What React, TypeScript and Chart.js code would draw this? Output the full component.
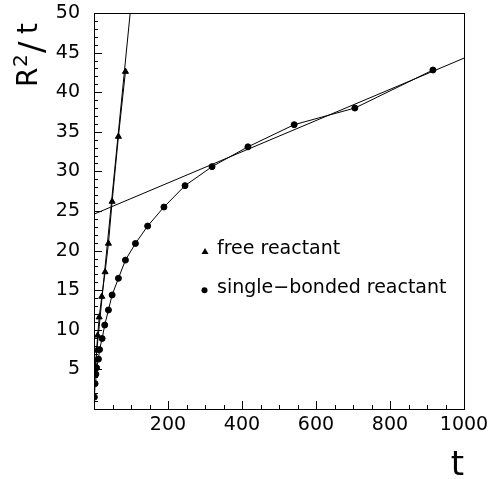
import React, { useEffect, useRef } from "react";
import { Chart, registerables } from "chart.js";

Chart.register(...registerables);

// ---- data ----
const SINGLE_T = [1, 3, 5, 7, 12, 15, 22, 29, 39, 49, 66, 85, 112, 145, 189, 246, 319, 416, 541, 705, 916];
const SINGLE_Y = [1.5, 3.2, 4.4, 5.2, 6.3, 7.5, 8.9, 10.6, 12.5, 14.4, 16.5, 18.8, 20.9, 23.1, 25.5, 28.2, 30.6, 33.1, 35.9, 38.0, 42.8];

const FREE_T = [3, 5, 7, 10, 14, 21, 30, 39, 49, 66, 85];
const FREE_Y = [4.5, 5.3, 7.4, 9.3, 11.6, 14.2, 17.3, 20.9, 26.2, 34.4, 42.6];

// straight-line fits (end points)
const SINGLE_FIT_T = [0, 1000];
const SINGLE_FIT_Y = [24.6, 44.3];
const FREE_FIT_T = [0, 97.8];
const FREE_FIT_Y = [3.8, 50];

const X_TICKS = [200, 400, 600, 800, 1000];
const Y_TICKS = [5, 10, 15, 20, 25, 30, 35, 40, 45, 50];

const LEGEND_LABELS = ["free reactant", "single\u2212bonded reactant"];

const FONT = "'DejaVu Sans', 'Liberation Sans', sans-serif";

const zip = (xs: number[], ys: number[]) => xs.map((x, i) => ({ x, y: ys[i] }));

const zeroPad = (s: any) => {
  s.paddingTop = 0;
  s.paddingBottom = 0;
  s.paddingLeft = 0;
  s.paddingRight = 0;
};

const decorPlugin = {
  id: "decor",
  afterDraw(chart: any) {
    const { ctx, chartArea } = chart;
    const xs = chart.scales.x;
    const ys = chart.scales.y;
    const { left, right, top, bottom } = chartArea;
    ctx.save();
    ctx.strokeStyle = "#000";
    ctx.lineWidth = 1;
    // frame
    ctx.strokeRect(Math.round(left) + 0.5, Math.round(top) + 0.5, Math.round(right - left), Math.round(bottom - top));
    // y ticks (inside)
    ctx.beginPath();
    for (let v = 1; v < 50; v++) {
      const py = Math.round(ys.getPixelForValue(v)) + 0.5;
      const len = v % 5 === 0 ? 8 : 4;
      ctx.moveTo(left, py);
      ctx.lineTo(left + len, py);
    }
    // x ticks (inside)
    for (let v = 50; v < 1000; v += 50) {
      const px = Math.round(xs.getPixelForValue(v)) + 0.5;
      const len = v % 200 === 0 ? 8 : 4;
      ctx.moveTo(px, bottom);
      ctx.lineTo(px, bottom - len);
    }
    ctx.stroke();

    // legend
    const w = right - left;
    const h = bottom - top;
    const lx = left + w * 0.30;
    const ly1 = top + h * 0.602;
    const ly2 = top + h * 0.70;
    ctx.fillStyle = "#000";
    // triangle
    ctx.beginPath();
    ctx.moveTo(lx, ly1 - 3.5);
    ctx.lineTo(lx + 3.5, ly1 + 2.5);
    ctx.lineTo(lx - 3.5, ly1 + 2.5);
    ctx.closePath();
    ctx.fill();
    // circle
    ctx.beginPath();
    ctx.arc(lx - 0.5, ly2, 3, 0, Math.PI * 2);
    ctx.fill();
    ctx.font = `19px ${FONT}`;
    ctx.textBaseline = "middle";
    ctx.textAlign = "left";
    ctx.fillText(LEGEND_LABELS[0], lx + 12, ly1 - 2);
    ctx.fillText(LEGEND_LABELS[1], lx + 12, ly2 - 2);

    // x title
    ctx.font = `34px ${FONT}`;
    ctx.textAlign = "right";
    ctx.textBaseline = "alphabetic";
    ctx.fillText("t", right, 475);

    // y title  R^2/t rotated
    ctx.save();
    ctx.translate(37, 87);
    ctx.rotate(-Math.PI / 2);
    ctx.textAlign = "left";
    ctx.textBaseline = "alphabetic";
    ctx.font = `28px ${FONT}`;
    ctx.fillText("R", 0, 0);
    ctx.font = `20px ${FONT}`;
    ctx.fillText("2", 20, -10);
    ctx.font = `34px ${FONT}`;
    ctx.fillText("/", 34, 6);
    ctx.font = `28px ${FONT}`;
    ctx.fillText("t", 53, 0);
    ctx.restore();

    ctx.restore();
  },
};

export default function App() {
  const ref = useRef<HTMLCanvasElement | null>(null);
  useEffect(() => {
    document.body.style.margin = "0";
    const canvas = ref.current;
    if (!canvas) return;
    const black = "#000";
    const chart = new Chart(canvas, {
      type: "scatter",
      data: {
        datasets: [
          {
            data: zip(SINGLE_T, SINGLE_Y),
            showLine: true,
            borderColor: black,
            backgroundColor: black,
            borderWidth: 1,
            pointStyle: "circle",
            pointRadius: 3,
          },
          {
            data: zip(FREE_T, FREE_Y),
            showLine: true,
            borderColor: black,
            backgroundColor: black,
            borderWidth: 1,
            pointStyle: "triangle",
            pointRadius: 3.5,
          },
          {
            data: zip(SINGLE_FIT_T, SINGLE_FIT_Y),
            showLine: true,
            borderColor: black,
            borderWidth: 1,
            pointRadius: 0,
          },
          {
            data: zip(FREE_FIT_T, FREE_FIT_Y),
            showLine: true,
            borderColor: black,
            borderWidth: 1,
            pointRadius: 0,
          },
        ],
      },
      options: {
        responsive: false,
        animation: false,
        devicePixelRatio: 1,
        layout: { padding: { top: 13, right: 27, left: 0, bottom: 0 } },
        plugins: { legend: { display: false }, tooltip: { enabled: false } },
        scales: {
          x: {
            type: "linear",
            min: 0,
            max: 1000,
            afterBuildTicks: (s: any) => {
              s.ticks = X_TICKS.map((v) => ({ value: v }));
            },
            afterFit: (s: any) => {
              s.height = 70;
              zeroPad(s);
            },
            grid: { display: false, drawTicks: false },
            border: { display: false },
            ticks: {
              color: black,
              padding: 5,
              maxRotation: 0,
              autoSkip: false,
              font: { family: FONT, size: 19 },
              callback: (v: any) => String(v),
            },
          },
          y: {
            type: "linear",
            min: 0,
            max: 50,
            afterBuildTicks: (s: any) => {
              s.ticks = Y_TICKS.map((v) => ({ value: v }));
            },
            afterFit: (s: any) => {
              s.width = 94;
              zeroPad(s);
            },
            grid: { display: false, drawTicks: false },
            border: { display: false },
            ticks: {
              color: black,
              padding: 14,
              autoSkip: false,
              font: { family: FONT, size: 19 },
              callback: (v: any) => String(v),
            },
          },
        },
      },
      plugins: [decorPlugin],
    } as any);
    return () => chart.destroy();
  }, []);
  return (
    <div style={{ width: 491, height: 479, background: "#fff" }}>
      <canvas ref={ref} width={491} height={479} />
    </div>
  );
}
